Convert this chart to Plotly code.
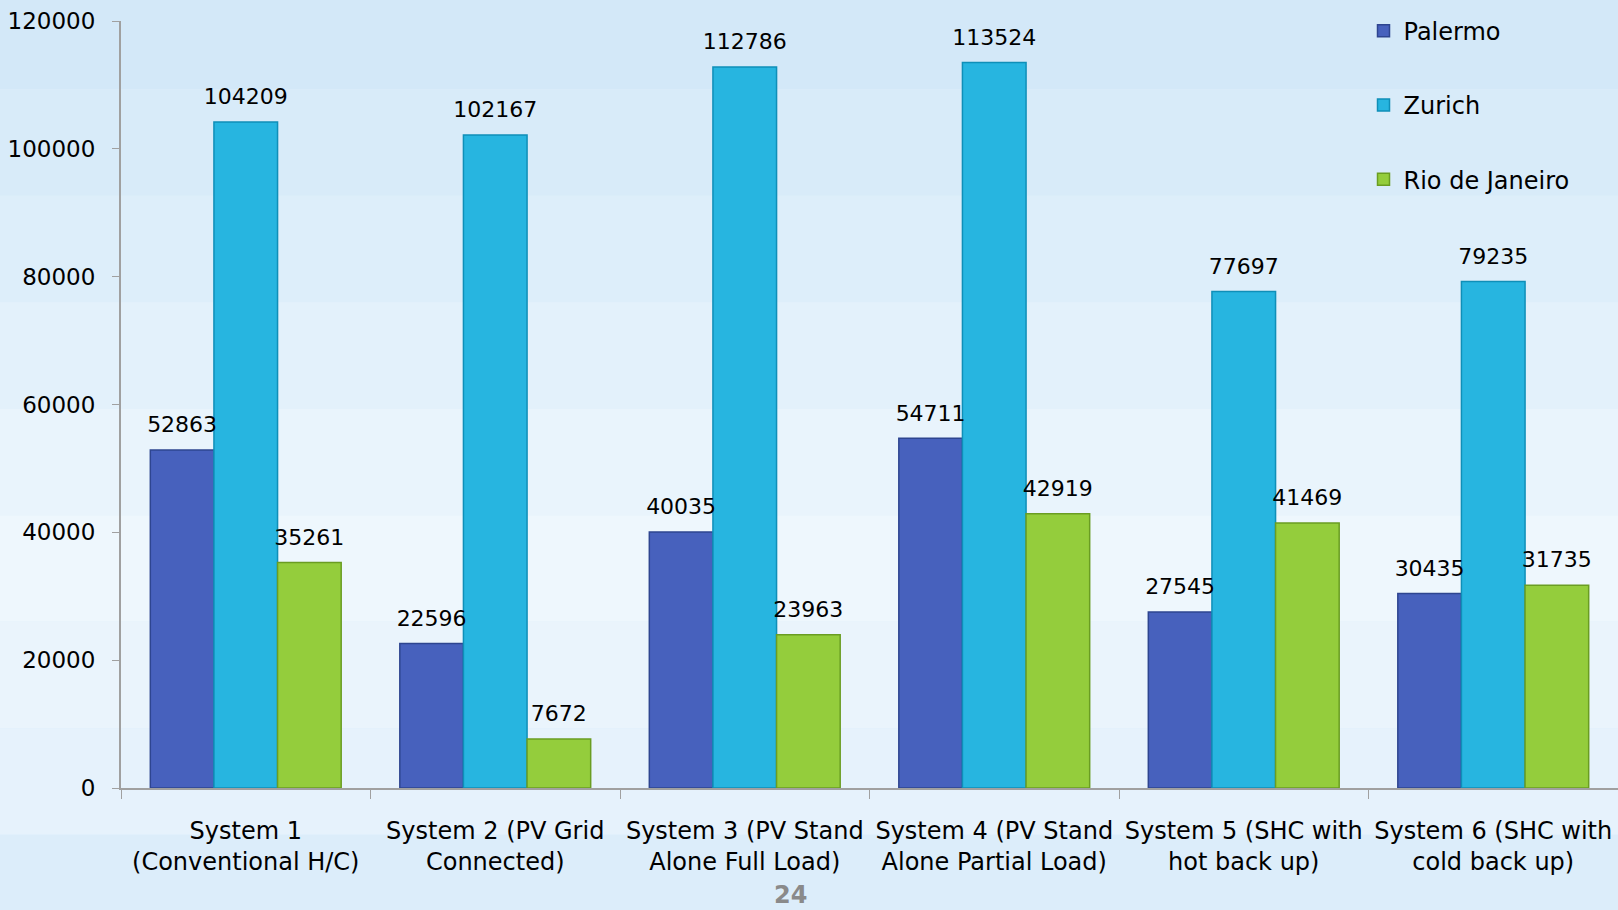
import plotly.graph_objects as go

categories = ["System 1<br>(Conventional H/C)", "System 2 (PV Grid<br>Connected)",
              "System 3 (PV Stand<br>Alone Full Load)", "System 4 (PV Stand<br>Alone Partial Load)",
              "System 5 (SHC with<br>hot back up)", "System 6 (SHC with<br>cold back up)"]
palermo = [52863, 22596, 40035, 54711, 27545, 30435]
zurich = [104209, 102167, 112786, 113524, 77697, 79235]
rio = [35261, 7672, 23963, 42919, 41469, 31735]
y_ticks = [0, 20000, 40000, 60000, 80000, 100000, 120000]

font_family = "DejaVu Sans, Verdana, sans-serif"
series = [("Palermo", palermo, "#4761bd", "#2e4590"),
          ("Zurich", zurich, "#27b5e0", "#0f8fb8"),
          ("Rio de Janeiro", rio, "#94cd3c", "#6a9d22")]

fig = go.Figure()
for i, (name, vals, col, edge) in enumerate(series):
    fig.add_trace(go.Bar(
        x=categories, y=vals, name=name, legendgroup=name,
        marker=dict(color=col, line=dict(color=edge, width=1.5)),
        cliponaxis=False,
    ))
# value labels, placed by the same grouped positions
for i, (name, vals, col, edge) in enumerate(series):
    fig.add_trace(go.Scatter(
        x=categories, y=vals, mode="markers+text", showlegend=False, legendgroup=name,
        marker=dict(size=18, color="rgba(0,0,0,0)"),
        text=[str(v) for v in vals], textposition="top center",
        textfont=dict(size=22, color="black", family=font_family),
        cliponaxis=False, hoverinfo="skip",
    ))

# background gradient (style only)
bands = ["#d3e8f8", "#d8ebf9", "#ddeefa", "#e3f1fb", "#e9f4fc", "#eef7fd", "#eaf4fc", "#e6f2fc", "#dcedfa"]
shapes = []
n = len(bands)
for k, c in enumerate(bands):
    shapes.append(dict(type="rect", xref="paper", yref="paper", x0=-0.1, x1=1.1,
                       y0=1.05 - (k + 1) * 1.25 / n, y1=1.05 - k * 1.25 / n,
                       fillcolor=c, line=dict(width=0), layer="below"))

fig.update_layout(
    width=1618, height=910,
    margin=dict(l=121, r=0, t=21, b=122),
    paper_bgcolor="#dcedfa", plot_bgcolor="rgba(0,0,0,0)",
    barmode="group", bargap=0.235, bargroupgap=0,
    scattermode="group", scattergap=0.235,
    font=dict(family=font_family, color="black", size=22),
    showlegend=True,
    legend=dict(x=0.83, y=1.016, xanchor="left", yanchor="top",
                bgcolor="rgba(0,0,0,0)", tracegroupgap=40,
                font=dict(size=24, family=font_family), itemwidth=30),
    shapes=shapes,
    annotations=[dict(text="<b>24</b>", x=(790 - 121) / 1497, xref="paper", y=-0.139, yref="paper",
                      xanchor="center", yanchor="middle", showarrow=False,
                      font=dict(size=24, color="#8a8a8a", family=font_family))],
)
fig.update_xaxes(type="category", showline=True, linecolor="#a0a0a0", linewidth=2,
                 ticks="outside", tickson="boundaries", ticklen=9, tickcolor="#a0a0a0",
                 tickfont=dict(size=24), showgrid=False, ticklabelstandoff=20)
fig.update_yaxes(range=[0, 120000], tickvals=y_ticks, showline=True, linecolor="#a0a0a0",
                 linewidth=2, ticks="outside", ticklen=7, tickcolor="#a0a0a0",
                 tickfont=dict(size=23), showgrid=False, zeroline=False, tickformat="d",
                 ticklabelstandoff=12)

fig.write_html("out.html")
